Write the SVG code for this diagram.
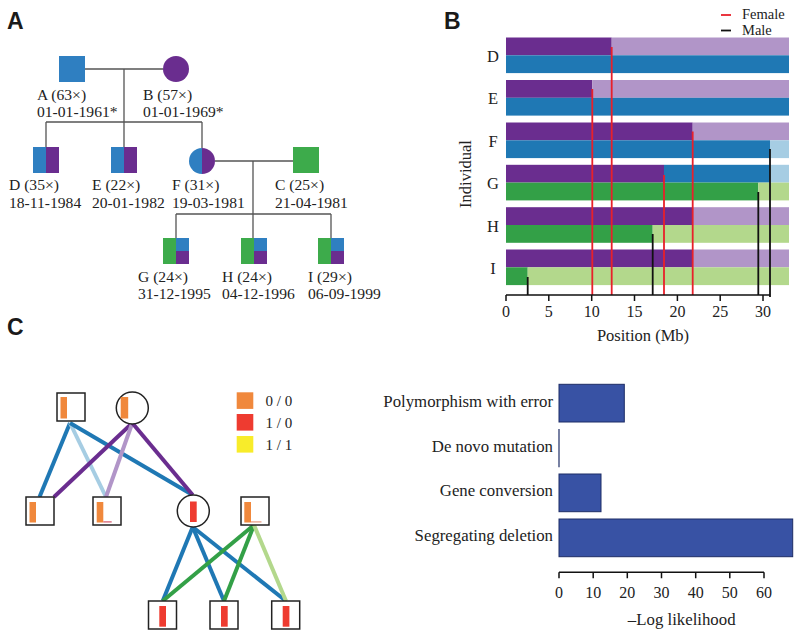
<svg xmlns="http://www.w3.org/2000/svg" width="800" height="638" viewBox="0 0 800 638">
<style>
.t{font-family:"Liberation Serif","Times New Roman",serif;fill:#222}
.pa{font-size:15.6px}
.pl{font-family:"Liberation Sans",Arial,sans-serif;font-weight:bold;font-size:23px;fill:#1a1a1a}
.ln{stroke:#555;stroke-width:1.3;fill:none}
.bl{fill:#2f7fc1}.pu{fill:#6a2d8f}.gr{fill:#3dab4b}
.b2{fill:#1f78b4}.lb{fill:#a6cde3}.p2{fill:#6a2d8f}.lp{fill:#b195c8}.g2{fill:#33a047}.lg{fill:#b3d88c}
.red{stroke:#e8202a;stroke-width:1.8}
.blk{stroke:#111;stroke-width:1.8}
.ax{stroke:#111;stroke-width:1.5;fill:none}
.box{fill:#fff;stroke:#222;stroke-width:1.5}
.or{fill:#f0883c}.rd{fill:#ee3b30}.ye{fill:#f8ec2a}
.e{stroke-width:4;fill:none}
.hb{fill:#3852a4;stroke:#1d2c66;stroke-width:1}
</style>

<!-- Panel labels -->
<text class="pl" x="7" y="29">A</text>
<text class="pl" x="444" y="29">B</text>
<text class="pl" x="7" y="335">C</text>

<!-- Panel A connectors -->
<g id="pedigree-links">
<path class="ln" d="M85,69 H163 M124,69 V122 M46,122 H202 M46,122 V147 M124,122 V147 M202,122 V148 M215,161 H293 M253,161 V214 M176,214 H331 M176,214 V238 M253,214 V238 M331,214 V238"/>
</g>

<g id="nodeA"><rect class="bl" x="59" y="56" width="26" height="26"/>
<text class="t pa" x="37" y="100">A (63×)</text><text class="t pa" x="37" y="117">01-01-1961*</text></g>
<g id="nodeB"><circle class="pu" cx="176" cy="69" r="13"/>
<text class="t pa" x="143" y="100">B (57×)</text><text class="t pa" x="143" y="117">01-01-1969*</text></g>
<g id="nodeD"><rect class="bl" x="33" y="147" width="13" height="26"/><rect class="pu" x="46" y="147" width="13" height="26"/>
<text class="t pa" x="9" y="190">D (35×)</text><text class="t pa" x="9" y="208">18-11-1984</text></g>
<g id="nodeE"><rect class="bl" x="111" y="147" width="13" height="26"/><rect class="pu" x="124" y="147" width="13" height="26"/>
<text class="t pa" x="92" y="190">E (22×)</text><text class="t pa" x="92" y="208">20-01-1982</text></g>
<g id="nodeF"><path class="bl" d="M202,148 A13,13 0 0,0 202,174 Z"/><path class="pu" d="M202,148 A13,13 0 0,1 202,174 Z"/>
<text class="t pa" x="172" y="190">F (31×)</text><text class="t pa" x="172" y="208">19-03-1981</text></g>
<g id="nodeC"><rect class="gr" x="293" y="147" width="26" height="26"/>
<text class="t pa" x="275" y="190">C (25×)</text><text class="t pa" x="275" y="208">21-04-1981</text></g>
<g id="nodeG"><rect class="gr" x="163" y="238" width="13" height="26"/><rect class="bl" x="176" y="238" width="13" height="13"/><rect class="pu" x="176" y="251" width="13" height="13"/>
<text class="t pa" x="138" y="282">G (24×)</text><text class="t pa" x="138" y="299">31-12-1995</text></g>
<g id="nodeH"><rect class="gr" x="241" y="238" width="13" height="26"/><rect class="bl" x="254" y="238" width="13" height="13"/><rect class="pu" x="254" y="251" width="13" height="13"/>
<text class="t pa" x="222" y="282">H (24×)</text><text class="t pa" x="222" y="299">04-12-1996</text></g>
<g id="nodeI"><rect class="gr" x="318" y="238" width="13" height="26"/><rect class="bl" x="331" y="238" width="13" height="13"/><rect class="pu" x="331" y="251" width="13" height="13"/>
<text class="t pa" x="308" y="282">I (29×)</text><text class="t pa" x="308" y="299">06-09-1999</text></g>

<!-- Panel B -->
<g id="haplotypes">
<rect class="p2" x="506" y="37.5" width="105.7" height="17.8"/><rect class="lp" x="611.7" y="37.5" width="177.3" height="17.8"/>
<rect class="b2" x="506" y="55.3" width="283" height="17.8"/>
<rect class="p2" x="506" y="80" width="86.3" height="17.8"/><rect class="lp" x="592.3" y="80" width="196.7" height="17.8"/>
<rect class="b2" x="506" y="97.8" width="283" height="17.8"/>
<rect class="p2" x="506" y="122.5" width="186.7" height="17.8"/><rect class="lp" x="692.7" y="122.5" width="96.3" height="17.8"/>
<rect class="b2" x="506" y="140.3" width="264" height="17.8"/><rect class="lb" x="770" y="140.3" width="19" height="17.8"/>
<rect class="p2" x="506" y="164.8" width="158" height="17.8"/><rect class="b2" x="664" y="164.8" width="106" height="17.8"/><rect class="lb" x="770" y="164.8" width="19" height="17.8"/>
<rect class="g2" x="506" y="182.6" width="252.3" height="17.8"/><rect class="lg" x="758.3" y="182.6" width="30.7" height="17.8"/>
<rect class="p2" x="506" y="207.2" width="186.7" height="17.8"/><rect class="lp" x="692.7" y="207.2" width="96.3" height="17.8"/>
<rect class="g2" x="506" y="225" width="146.7" height="17.8"/><rect class="lg" x="652.7" y="225" width="136.3" height="17.8"/>
<rect class="p2" x="506" y="249.5" width="186.7" height="17.8"/><rect class="lp" x="692.7" y="249.5" width="96.3" height="17.8"/>
<rect class="g2" x="506" y="267.3" width="21.7" height="17.8"/><rect class="lg" x="527.7" y="267.3" width="261.3" height="17.8"/>
</g>
<g id="crossovers">
<line class="red" x1="611.7" y1="47" x2="611.7" y2="295"/>
<line class="red" x1="592.3" y1="89" x2="592.3" y2="295"/>
<line class="red" x1="692.7" y1="131.5" x2="692.7" y2="295"/>
<line class="red" x1="664" y1="175" x2="664" y2="295"/>
<line class="blk" x1="770" y1="149" x2="770" y2="297"/>
<line class="blk" x1="758.3" y1="192" x2="758.3" y2="295"/>
<line class="blk" x1="652.7" y1="234" x2="652.7" y2="295"/>
<line class="blk" x1="527.7" y1="277" x2="527.7" y2="295"/>
</g>
<g id="axisB">
<path class="ax" d="M506,295 H770 M506,295 V301 M548.8,295 V301 M591.7,295 V301 M634.5,295 V301 M677.4,295 V301 M720.2,295 V301 M763,295 V301"/>
<g class="t" font-size="16" text-anchor="middle">
<text x="506" y="317">0</text><text x="548.8" y="317">5</text><text x="591.7" y="317">10</text><text x="634.5" y="317">15</text><text x="677.4" y="317">20</text><text x="720.2" y="317">25</text><text x="763" y="317">30</text>
</g>
<text class="t" font-size="16.5" x="643" y="341" text-anchor="middle">Position (Mb)</text>
<text class="t" font-size="16.5" transform="translate(471,174) rotate(-90)" text-anchor="middle">Individual</text>
<g class="t" font-size="16.5" text-anchor="middle">
<text x="493" y="61.5">D</text><text x="493" y="104">E</text><text x="493" y="146.5">F</text><text x="493" y="189">G</text><text x="493" y="231.5">H</text><text x="493" y="273.5">I</text>
</g>
</g>
<g id="legendB">
<line x1="721" y1="15" x2="731" y2="15" stroke="#e8202a" stroke-width="1.8"/>
<text class="t" font-size="14.5" x="742" y="18.5">Female</text>
<line x1="721" y1="30.5" x2="731" y2="30.5" stroke="#111" stroke-width="1.8"/>
<text class="t" font-size="14.5" x="742" y="35">Male</text>
</g>

<!-- Panel C pedigree -->
<g id="inheritance-links">
<line class="e" stroke="#1f78b4" x1="70" y1="423" x2="39.5" y2="497"/>
<line class="e" stroke="#a6cde3" x1="70" y1="423" x2="106" y2="497"/>
<line class="e" stroke="#1f78b4" x1="70" y1="423" x2="192.7" y2="495"/>
<line class="e" stroke="#6a2d8f" x1="132.3" y1="423" x2="54" y2="497"/>
<line class="e" stroke="#b195c8" x1="132.3" y1="423" x2="106" y2="497"/>
<line class="e" stroke="#6a2d8f" x1="132.3" y1="423" x2="192.7" y2="495"/>
<line class="e" stroke="#1f78b4" x1="192.7" y1="527" x2="162.7" y2="601"/>
<line class="e" stroke="#1f78b4" x1="192.7" y1="527" x2="224" y2="601"/>
<line class="e" stroke="#1f78b4" x1="192.7" y1="527" x2="286" y2="601"/>
<line class="e" stroke="#33a047" x1="254" y1="525" x2="162.7" y2="601"/>
<line class="e" stroke="#33a047" x1="254" y1="525" x2="224" y2="601"/>
<line class="e" stroke="#b3d88c" x1="254" y1="525" x2="286" y2="601"/>
</g>
<g id="c-father"><rect class="box" x="57" y="393" width="28" height="28"/><rect class="or" x="60.5" y="397" width="6.5" height="21.5"/></g>
<g id="c-mother"><circle class="box" cx="132.3" cy="408" r="16"/><rect class="or" x="120.7" y="397" width="7.5" height="21.5"/></g>
<g id="c-D"><rect class="box" x="26" y="497" width="28" height="28"/><rect class="or" x="29.5" y="502" width="6.5" height="20.5"/></g>
<g id="c-E"><rect class="box" x="93" y="497" width="28" height="28"/><rect class="or" x="96.7" y="502" width="6.6" height="20.5"/><rect x="103.3" y="521.3" width="8.4" height="1.2" fill="#d4566a"/></g>
<g id="c-F"><circle class="box" cx="193.3" cy="511" r="16"/><rect class="rd" x="190" y="501.5" width="6.7" height="20.5"/></g>
<g id="c-C"><rect class="box" x="241" y="497" width="28" height="28"/><rect class="or" x="244.3" y="502" width="6.7" height="20.5"/><rect x="251" y="521.3" width="10.5" height="1.2" fill="#e89a80"/></g>
<g id="c-G"><rect class="box" x="148.5" y="601" width="28" height="28"/><rect class="rd" x="159.3" y="606" width="6.7" height="20.7"/></g>
<g id="c-H"><rect class="box" x="210" y="601" width="28" height="28"/><rect class="rd" x="221" y="606" width="6.7" height="20.7"/></g>
<g id="c-I"><rect class="box" x="271.7" y="601" width="28" height="28"/><rect class="rd" x="282.7" y="606" width="6.7" height="20.7"/></g>
<g id="legendC">
<rect class="or" x="236.7" y="392.3" width="16.6" height="16.6"/>
<rect class="rd" x="236.7" y="414" width="16.6" height="16.6"/>
<rect class="ye" x="236.7" y="436" width="16.6" height="16.6"/>
<g class="t" font-size="15"><text x="265.5" y="406">0 / 0</text><text x="265.5" y="427.5">1 / 0</text><text x="265.5" y="449.5">1 / 1</text></g>
</g>

<!-- Panel C bar chart -->
<g id="barchart">
<rect class="hb" x="559" y="384.3" width="65.3" height="37.7"/>
<line x1="559" y1="429" x2="559" y2="467.3" stroke="#1d2c66" stroke-width="1.2"/>
<rect class="hb" x="559" y="474" width="42" height="37.7"/>
<rect class="hb" x="559" y="519" width="233.7" height="37.7"/>
<g class="t" font-size="16.8" text-anchor="end">
<text x="553" y="406.5">Polymorphism with error</text>
<text x="553" y="451.5">De novo mutation</text>
<text x="553" y="496">Gene conversion</text>
<text x="553" y="541">Segregating deletion</text>
</g>
<path class="ax" d="M559,572.3 H764 M559,572.3 V578.3 M593.2,572.3 V578.3 M627.3,572.3 V578.3 M661.5,572.3 V578.3 M695.7,572.3 V578.3 M729.8,572.3 V578.3 M764,572.3 V578.3"/>
<g class="t" font-size="16" text-anchor="middle">
<text x="559" y="598">0</text><text x="593.2" y="598">10</text><text x="627.3" y="598">20</text><text x="661.5" y="598">30</text><text x="695.7" y="598">40</text><text x="729.8" y="598">50</text><text x="764" y="598">60</text>
</g>
<text class="t" font-size="16.8" x="681.7" y="625" text-anchor="middle">–Log likelihood</text>
</g>
</svg>
